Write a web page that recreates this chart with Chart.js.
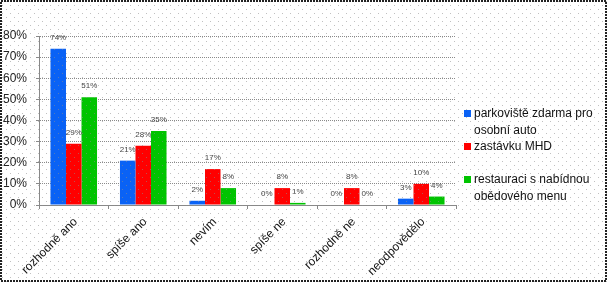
<!DOCTYPE html>
<html>
<head>
<meta charset="utf-8">
<script src="https://cdn.jsdelivr.net/npm/chart.js@4/dist/chart.umd.min.js"></script>
<style>
  html, body { margin: 0; padding: 0; background: #fff; }
  #wrap { position: relative; width: 607px; height: 282px; }
</style>
</head>
<body>
<div id="wrap"><canvas id="chart" width="607" height="282"></canvas></div>
<script>
// categories and values (percent)
const categories = ["rozhodně ano", "spíše ano", "nevím", "spíše ne", "rozhodně ne", "neodpovědělo"];
const parkoviste = [74, 21, 2, 0, 0, 3];
const zastavka = [29, 28, 17, 8, 8, 10];
const restaurace = [51, 35, 8, 1, 0, 4];
const seriesNames = [
    ["parkoviště zdarma pro", "osobní auto"],
    ["zastávku MHD"],
    ["restauraci s nabídnou", "obědového menu"]
];
const yTicks = [0, 10, 20, 30, 40, 50, 60, 70, 80];

const FONT = '"Liberation Sans", Arial, sans-serif';

// value labels above the bars
const valueLabels = {
    id: 'valueLabels',
    afterDatasetsDraw(chart) {
        const ctx = chart.ctx;
        ctx.save();
        ctx.font = '8px ' + FONT;
        ctx.fillStyle = '#444';
        ctx.textAlign = 'center';
        ctx.textBaseline = 'middle';
        chart.data.datasets.forEach((ds, i) => {
            chart.getDatasetMeta(i).data.forEach((bar, j) => {
                ctx.fillText(ds.data[j] + '%', bar.x, bar.y - 11);
            });
        });
        ctx.restore();
    }
};

// category labels at 45 degrees (drawn at the x scale's tick positions)
const slantLabels = {
    id: 'slantLabels',
    afterDraw(chart) {
        const ctx = chart.ctx;
        const xs = chart.scales.x;
        ctx.save();
        ctx.font = '12px ' + FONT;
        ctx.fillStyle = '#111';
        ctx.textAlign = 'right';
        ctx.textBaseline = 'middle';
        chart.data.labels.forEach((lab, i) => {
            ctx.save();
            ctx.translate(xs.getPixelForTick(i) + 2, xs.top + 15);
            ctx.rotate(-Math.PI / 4);
            ctx.fillText(lab, 0, 0);
            ctx.restore();
        });
        ctx.restore();
    }
};

// legend on the right, multi-line like the original
const sideLegend = {
    id: 'sideLegend',
    afterDraw(chart) {
        const ctx = chart.ctx;
        ctx.save();
        ctx.font = '12px ' + FONT;
        ctx.textBaseline = 'middle';
        ctx.textAlign = 'left';
        let top = 106;
        chart.data.datasets.forEach((ds, i) => {
            ctx.fillStyle = ds.backgroundColor;
            ctx.fillRect(464, top + 4, 7, 7);
            ctx.fillStyle = '#111';
            seriesNames[i].forEach((line, k) => {
                ctx.fillText(line, 474, top + 8 + k * 16.5);
            });
            top += 33;
        });
        ctx.restore();
    }
};

// background dots + dashed frame
const frame = {
    id: 'frame',
    beforeDraw(chart) {
        const ctx = chart.ctx;
        ctx.save();
        ctx.fillStyle = '#fff';
        ctx.fillRect(0, 0, chart.width, chart.height);
        ctx.restore();
    },
    afterDraw(chart) {
        const ctx = chart.ctx;
        ctx.save();
        ctx.fillStyle = 'rgba(140,140,140,0.55)';
        for (let y = 1; y < chart.height; y += 4) {
            const off = ((y - 1) / 4) % 2 === 0 ? 6 : 2;
            for (let x = off; x < chart.width; x += 8) {
                ctx.fillRect(x, y, 1, 1);
            }
        }
        ctx.strokeStyle = '#222';
        ctx.lineWidth = 2;
        ctx.setLineDash([2, 1]);
        ctx.strokeRect(1, 1, chart.width - 2, chart.height - 2);
        ctx.restore();
    }
};

new Chart(document.getElementById('chart'), {
    type: 'bar',
    data: {
        labels: categories,
        datasets: [
            { label: seriesNames[0].join(' '), data: parkoviste, backgroundColor: '#0a62f5' },
            { label: seriesNames[1].join(' '), data: zastavka, backgroundColor: '#ff0000' },
            { label: seriesNames[2].join(' '), data: restaurace, backgroundColor: '#00c400' }
        ]
    },
    options: {
        responsive: false,
        animation: false,
        layout: { padding: { top: 36, right: 151, left: 0, bottom: 0 } },
        plugins: { legend: { display: false }, tooltip: { enabled: false } },
        datasets: { bar: { categoryPercentage: 0.67, barPercentage: 1 } },
        scales: {
            x: {
                afterFit(scale) { scale.height = 77; },
                grid: { display: true, drawOnChartArea: false, tickLength: 4, color: '#888', offset: true },
                border: { color: '#888' },
                ticks: { display: false }
            },
            y: {
                min: 0, max: 80,
                afterFit(scale) { scale.width = 39; },
                afterBuildTicks(scale) { scale.ticks = yTicks.map(v => ({ value: v })); },
                grid: { color: '#8a8a8a', tickLength: 3 },
                border: { color: '#888', dash: [1, 1] },
                ticks: {
                    color: '#222', padding: 9,
                    font: { family: FONT, size: 12 },
                    callback: v => v + '%'
                }
            }
        }
    },
    plugins: [frame, valueLabels, slantLabels, sideLegend]
});
</script>
</body>
</html>
